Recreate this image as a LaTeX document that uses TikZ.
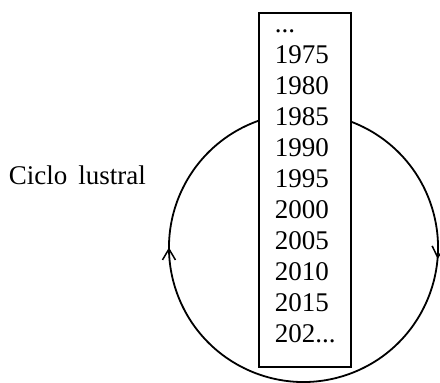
\documentclass[tikz,border=0pt]{standalone}
\usepackage{fontspec}
\setmainfont{Liberation Serif}
\usetikzlibrary{arrows.meta,decorations.markings}
\tikzset{
  yr/.style={anchor=base west, inner sep=0pt, font=\fontsize{27}{31}\selectfont},
  mybarb/.tip={Straight Barb[length=11pt,width=13pt,line width=1.5pt]}
}
\begin{document}
\begin{tikzpicture}[x=1pt,y=1pt,line width=1.8pt]
\useasboundingbox (0,0) rectangle (440,383);
\coordinate (c) at (303.5,135.5);
\draw[postaction={decorate},
  decoration={markings,
    mark=at position 0.0556 with {\arrow{mybarb}},
    mark=at position 0.569 with {\arrow{mybarb}}}]
  (c) ++(200:134.5) arc[start angle=200,end angle=-160,radius=134.5];
\node[draw, fill=white, line width=2pt, minimum width=92pt, minimum height=354pt,
  anchor=north west, inner sep=0pt] (box) at (258,371) {};
\node[yr] (y0) at (274,350) {...};
\foreach \y [count=\i] in {1975,1980,...,2015}
  \node[yr] (y\i) at (274,350-31*\i) {\y};
\node[yr] (y10) at (274,40) {202...};
\node[yr] (label) at (8,198) {Ciclo\hspace{11pt}lustral};
\end{tikzpicture}
\end{document}
